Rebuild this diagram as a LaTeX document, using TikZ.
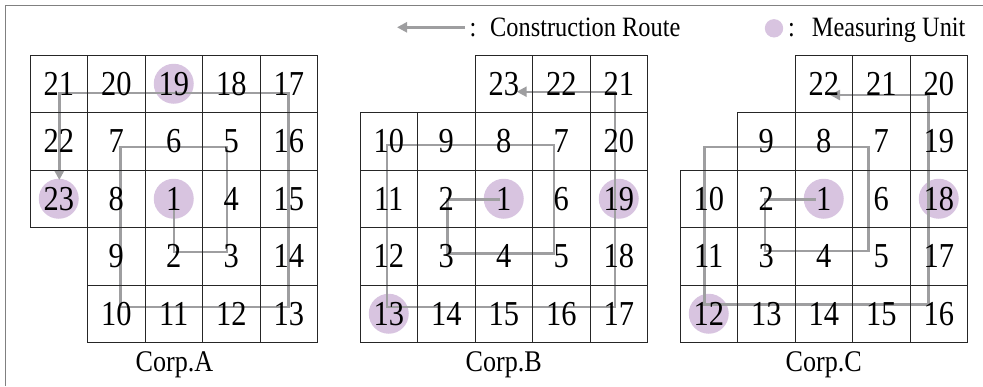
\documentclass[tikz,border=0pt]{standalone}
\usepackage{fontspec}
\setmainfont{Liberation Serif}[FakeStretch=0.87]
\usetikzlibrary{arrows.meta}
\pgfdeclarelayer{bg}
\pgfdeclarelayer{rt}
\pgfsetlayers{bg,rt,main}
\definecolor{mucol}{RGB}{216,196,224}
\definecolor{rtcol}{RGB}{158,158,160}
\definecolor{frcol}{RGB}{128,128,128}
\begin{document}
\begin{tikzpicture}[x=1pt,y=-1pt,
  cell/.style={draw=black!85,line width=0.8pt,minimum size=57.5pt,inner sep=0pt,font=\fontsize{35}{35}\selectfont},
  mu/.style={fill=mucol},
  route/.style={draw=rtcol,line width=2.4pt},
  rtarrow/.style={-{Triangle[length=10pt,width=10pt]}},
  lbl/.style={font=\fontsize{28}{28}\selectfont,inner sep=0pt},
  captext/.style={font=\fontsize{30}{30}\selectfont,inner sep=0pt}]
\useasboundingbox (0,0) rectangle (983,386);
% frame (only top and left visible)
\draw[frcol,line width=1pt] (983,5) -- (5.5,5) -- (5.5,386);

% ---------- Grid A ----------
\foreach \c/\r/\t in {0/0/21,1/0/20,2/0/19,3/0/18,4/0/17,
                      0/1/22,1/1/7,2/1/6,3/1/5,4/1/16,
                      0/2/23,1/2/8,2/2/1,3/2/4,4/2/15,
                      1/3/9,2/3/2,3/3/3,4/3/14,
                      1/4/10,2/4/11,3/4/12,4/4/13}
  \node[cell] (A\t) at ({30+57.5*(\c+0.5)},{55+57.5*(\r+0.5)}) {\t};

% ---------- Grid B ----------
\foreach \c/\r/\t in {2/0/23,3/0/22,4/0/21,
                      0/1/10,1/1/9,2/1/8,3/1/7,4/1/20,
                      0/2/11,1/2/2,2/2/1,3/2/6,4/2/19,
                      0/3/12,1/3/3,2/3/4,3/3/5,4/3/18,
                      0/4/13,1/4/14,2/4/15,3/4/16,4/4/17}
  \node[cell] (B\t) at ({360+57.5*(\c+0.5)},{55+57.5*(\r+0.5)}) {\t};

% ---------- Grid C ----------
\foreach \c/\r/\t in {2/0/22,3/0/21,4/0/20,
                      1/1/9,2/1/8,3/1/7,4/1/19,
                      0/2/10,1/2/2,2/2/1,3/2/6,4/2/18,
                      0/3/11,1/3/3,2/3/4,3/3/5,4/3/17,
                      0/4/12,1/4/13,2/4/14,3/4/15,4/4/16}
  \node[cell] (C\t) at ({680+57.5*(\c+0.5)},{55+57.5*(\r+0.5)}) {\t};

% ---------- measuring units ----------
\begin{pgfonlayer}{bg}
  \fill[mu] (A19.center) circle (20);
  \fill[mu] (A1.center) circle (20);
  \fill[mu] (A23.center) circle (20);
  \fill[mu] (B1.center) circle (20);
  \fill[mu] (B19.center) circle (20);
  \fill[mu] (B13.center) circle (20);
  \fill[mu] (C1.center) circle (20);
  \fill[mu] (C18.center) circle (20);
  \fill[mu] (C12.center) circle (20);
\end{pgfonlayer}

% ---------- routes ----------
\coordinate (A-r0) at (174,199);
\coordinate (A-r1) at (174,251.7);
\coordinate (A-r2) at (226.7,251.7);
\coordinate (A-r3) at (226.7,146.7);
\coordinate (A-r4) at (120.5,146.7);
\coordinate (A-r5) at (120.5,306.7);
\coordinate (A-r6) at (288.3,306.7);
\coordinate (A-r7) at (288.3,92.7);
\coordinate (A-r8) at (59.3,92.7);
\coordinate (A-r9) at (59.3,180);

\coordinate (B-r0) at (500,199.3);
\coordinate (B-r1) at (447.3,199.3);
\coordinate (B-r2) at (447.3,253.3);
\coordinate (B-r3) at (554,253.3);
\coordinate (B-r4) at (554,145);
\coordinate (B-r5) at (386.7,145);
\coordinate (B-r6) at (386.7,306.7);
\coordinate (B-r7) at (615,306.7);
\coordinate (B-r8) at (615,91.7);
\coordinate (B-r9) at (516.7,91.7);

\coordinate (C-r0) at (815.7,199.3);
\coordinate (C-r1) at (765,199.3);
\coordinate (C-r2) at (765,251);
\coordinate (C-r3) at (868.3,251);
\coordinate (C-r4) at (868.3,146.7);
\coordinate (C-r5) at (704.3,146.7);
\coordinate (C-r6) at (704.3,304.3);
\coordinate (C-r7) at (928.3,304.3);
\coordinate (C-r8) at (928.3,95);
\coordinate (C-r9) at (830,95);

\begin{pgfonlayer}{rt}
  \draw[route,rtarrow] (A-r0) -- (A-r1) -- (A-r2) -- (A-r3) -- (A-r4) -- (A-r5) -- (A-r6) -- (A-r7) -- (A-r8) -- (A-r9);
  \draw[route,rtarrow] (B-r0) -- (B-r1) -- (B-r2) -- (B-r3) -- (B-r4) -- (B-r5) -- (B-r6) -- (B-r7) -- (B-r8) -- (B-r9);
  \draw[route,rtarrow] (C-r0) -- (C-r1) -- (C-r2) -- (C-r3) -- (C-r4) -- (C-r5) -- (C-r6) -- (C-r7) -- (C-r8) -- (C-r9);
\end{pgfonlayer}

% ---------- captions ----------
\node[captext,anchor=base] (capA) at (174.5,371.7) {Corp.A};
\node[captext,anchor=base] (capB) at (503.75,371.7) {Corp.B};
\node[captext,anchor=base] (capC) at (823.75,371.7) {Corp.C};

% ---------- legend ----------
\coordinate (legS) at (465,27.3);
\coordinate (legE) at (397,27.3);
\draw[route,rtarrow] (legS) -- (legE);
\node[lbl,anchor=base west] (col1) at (469.5,36.7) {:};
\node[lbl,anchor=base west] (leg1) at (490,36.7) {Construction Route};
\fill[mu] (774,28.3) circle (9.2);
\node[lbl,anchor=base west] (col2) at (788,36.7) {:};
\node[lbl,anchor=base west] (leg2) at (811.7,36.7) {Measuring Unit};
\end{tikzpicture}
\end{document}
